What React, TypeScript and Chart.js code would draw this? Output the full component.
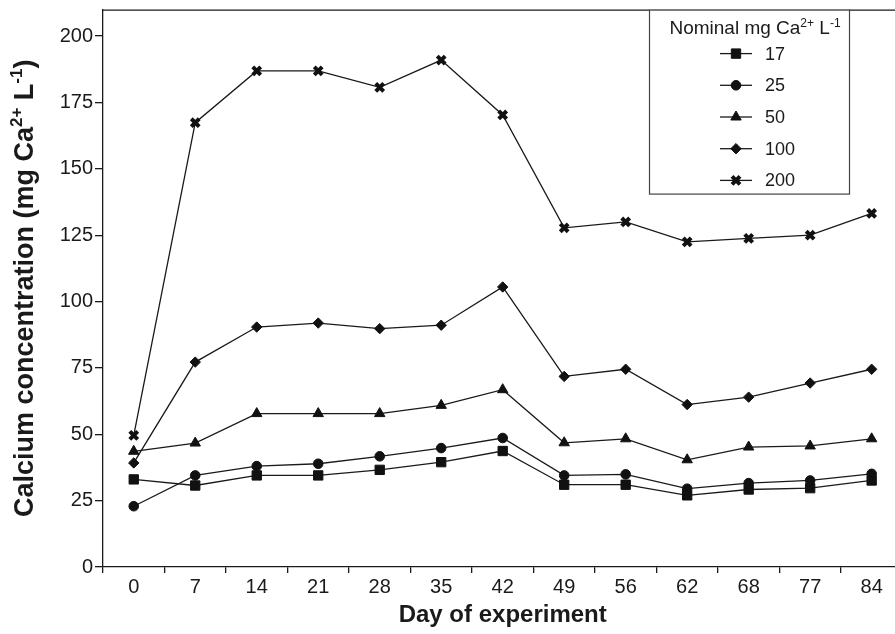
import React, { useEffect, useRef } from "react";
import { Chart, registerables } from "chart.js";
import { drawPoint } from "chart.js/helpers";

Chart.register(...registerables);

const days = ["0", "7", "14", "21", "28", "35", "42", "49", "56", "62", "68", "77", "84"];
const yTicks = [0, 25, 50, 75, 100, 125, 150, 175, 200];

const ca17 = [33.0, 30.7, 34.5, 34.5, 36.6, 39.5, 43.7, 31.0, 31.0, 27.0, 29.2, 29.7, 32.6];
const ca25 = [22.9, 34.5, 38.0, 38.9, 41.7, 44.8, 48.6, 34.5, 34.9, 29.5, 31.6, 32.6, 35.1];
const ca50 = [43.6, 46.7, 57.8, 57.8, 57.8, 60.9, 66.8, 46.8, 48.3, 40.4, 45.2, 45.6, 48.3];
const ca100 = [39.2, 77.2, 90.4, 91.9, 89.8, 91.1, 105.5, 71.8, 74.5, 61.2, 64.0, 69.3, 74.5];
const ca200 = [49.6, 167.4, 186.9, 186.9, 180.7, 191.0, 170.3, 127.8, 130.0, 122.5, 123.8, 125.0, 133.2];

const seriesLabels = ["17", "25", "50", "100", "200"];
// rich-text segments: [text, isSuperscript]
const legendTitleParts: [string, boolean][] = [["Nominal mg Ca", false], ["2+", true], [" L", false], ["-1", true]];
const yTitleParts: [string, boolean][] = [
  ["Calcium concentration (mg Ca", false],
  ["2+", true],
  [" L", false],
  ["-1", true],
  [")", false],
];
const xTitle = "Day of experiment";

const INK = "#1a1a1a";
const FONT = "'Liberation Sans', Arial, Helvetica, sans-serif";

const markers = [
  { pointStyle: "rect", radius: 6.6, borderWidth: 1 },
  { pointStyle: "circle", radius: 4.8, borderWidth: 1 },
  { pointStyle: "triangle", radius: 6, borderWidth: 1 },
  { pointStyle: "rectRot", radius: 5.2, borderWidth: 1 },
  { pointStyle: "crossRot", radius: 5.6, borderWidth: 4 },
];

function drawRich(
  ctx: CanvasRenderingContext2D,
  parts: [string, boolean][],
  cx: number,
  cy: number,
  size: number,
  weight: string
) {
  const supSize = Math.round(size * 0.62);
  const fontMain = `${weight} ${size}px ${FONT}`;
  const fontSup = `${weight} ${supSize}px ${FONT}`;
  let total = 0;
  const widths = parts.map(([t, sup]) => {
    ctx.font = sup ? fontSup : fontMain;
    const w = ctx.measureText(t).width;
    total += w;
    return w;
  });
  let x = cx - total / 2;
  ctx.textAlign = "left";
  ctx.textBaseline = "alphabetic";
  const base = cy + size * 0.36;
  parts.forEach(([t, sup], i) => {
    ctx.font = sup ? fontSup : fontMain;
    ctx.fillText(t, x, sup ? base - size * 0.38 : base);
    x += widths[i];
  });
}

const frameLegendPlugin = {
  id: "frameLegend",
  afterDatasetsDraw(chart: any) {
    const { ctx, chartArea } = chart;
    ctx.save();
    ctx.strokeStyle = INK;
    ctx.lineWidth = 1.3;
    ctx.beginPath();
    ctx.moveTo(chartArea.left, chartArea.top + 0.5);
    ctx.lineTo(chartArea.right, chartArea.top + 0.5);
    ctx.lineTo(chartArea.right, chartArea.bottom);
    ctx.stroke();

    // y-axis title with superscripts
    ctx.save();
    ctx.translate(23, (chartArea.top + chartArea.bottom) / 2);
    ctx.rotate(-Math.PI / 2);
    ctx.fillStyle = INK;
    drawRich(ctx, yTitleParts, 0, 0, 27, "bold");
    ctx.restore();

    const bx = chartArea.left + 546;
    const by = chartArea.top;
    const bw = 200;
    const bh = 184;
    ctx.fillStyle = "#fff";
    ctx.fillRect(bx, by, bw, bh);
    ctx.strokeStyle = "#444";
    ctx.lineWidth = 1.2;
    ctx.strokeRect(bx + 0.5, by + 0.5, bw, bh);

    ctx.fillStyle = INK;
    drawRich(ctx, legendTitleParts, bx + bw / 2 + 6, by + 18, 19, "normal");

    const ds = chart.data.datasets;
    ds.forEach((d: any, i: number) => {
      const cy = by + 44 + i * 31.7;
      const cx = bx + 87;
      ctx.strokeStyle = INK;
      ctx.lineWidth = 1.3;
      ctx.beginPath();
      ctx.moveTo(cx - 16, cy);
      ctx.lineTo(cx + 16, cy);
      ctx.stroke();
      ctx.fillStyle = "#111";
      ctx.strokeStyle = "#111";
      const m = markers[i];
      ctx.lineWidth = m.borderWidth;
      drawPoint(ctx, { pointStyle: m.pointStyle, radius: m.radius, rotation: 0, borderWidth: m.borderWidth }, cx, cy);
      ctx.fillStyle = INK;
      ctx.font = `18px ${FONT}`;
      ctx.textAlign = "left";
      ctx.textBaseline = "middle";
      ctx.fillText(d.label, bx + 116, cy + 1);
    });
    ctx.restore();
  },
};

export default function App() {
  const ref = useRef<HTMLCanvasElement | null>(null);

  useEffect(() => {
    if (!ref.current) return;
    const allData = [ca17, ca25, ca50, ca100, ca200];
    const chart = new Chart(ref.current, {
      type: "line",
      data: {
        labels: days,
        datasets: allData.map((vals, i) => ({
          label: seriesLabels[i],
          data: vals,
          borderColor: INK,
          borderWidth: 1.3,
          backgroundColor: "#111",
          pointBackgroundColor: "#111",
          pointBorderColor: "#111",
          pointStyle: markers[i].pointStyle as any,
          pointRadius: markers[i].radius,
          pointBorderWidth: markers[i].borderWidth,
          fill: false,
          tension: 0,
        })),
      },
      options: {
        animation: false,
        responsive: false,
        events: [],
        layout: { padding: { top: 9, right: 9, left: 0, bottom: 0 } },
        plugins: {
          legend: { display: false },
          tooltip: { enabled: false },
        },
        scales: {
          x: {
            type: "category",
            offset: true,
            grid: {
              offset: true,
              drawOnChartArea: false,
              drawTicks: true,
              tickLength: 6,
              color: INK,
              lineWidth: 1.3,
            },
            border: { display: true, color: INK, width: 1.3 },
            ticks: {
              color: INK,
              font: { family: FONT, size: 20 },
              padding: 2,
              maxRotation: 0,
              autoSkip: false,
            },
            title: {
              display: true,
              text: xTitle,
              color: INK,
              font: { family: FONT, size: 24, weight: "bold" },
              padding: { top: 4, bottom: 4 },
            },
            afterFit(scale: any) {
              scale.height = 67;
              scale.paddingLeft = 0;
              scale.paddingRight = 0;
            },
          },
          y: {
            min: 0,
            max: 210,
            grid: {
              drawOnChartArea: false,
              drawTicks: true,
              tickLength: 8,
              color: INK,
              lineWidth: 1.3,
            },
            border: { display: true, color: INK, width: 1.3 },
            ticks: {
              stepSize: 25,
              color: INK,
              font: { family: FONT, size: 20 },
              padding: 2,
            },
            afterBuildTicks(scale: any) {
              scale.ticks = yTicks.map((v) => ({ value: v }));
            },
            title: { display: false },
            afterFit(scale: any) {
              scale.width = 103;
              scale.paddingTop = 0;
              scale.paddingBottom = 0;
            },
          },
        },
      },
      plugins: [frameLegendPlugin],
    } as any);
    return () => chart.destroy();
  }, []);

  return (
    <div
      style={{
        position: "fixed",
        left: 0,
        top: 0,
        width: 895,
        height: 634,
        overflow: "hidden",
        background: "#fff",
      }}
    >
      <div style={{ width: 912, height: 634 }}>
        <canvas ref={ref} width={912} height={634} style={{ display: "block" }} />
      </div>
    </div>
  );
}
